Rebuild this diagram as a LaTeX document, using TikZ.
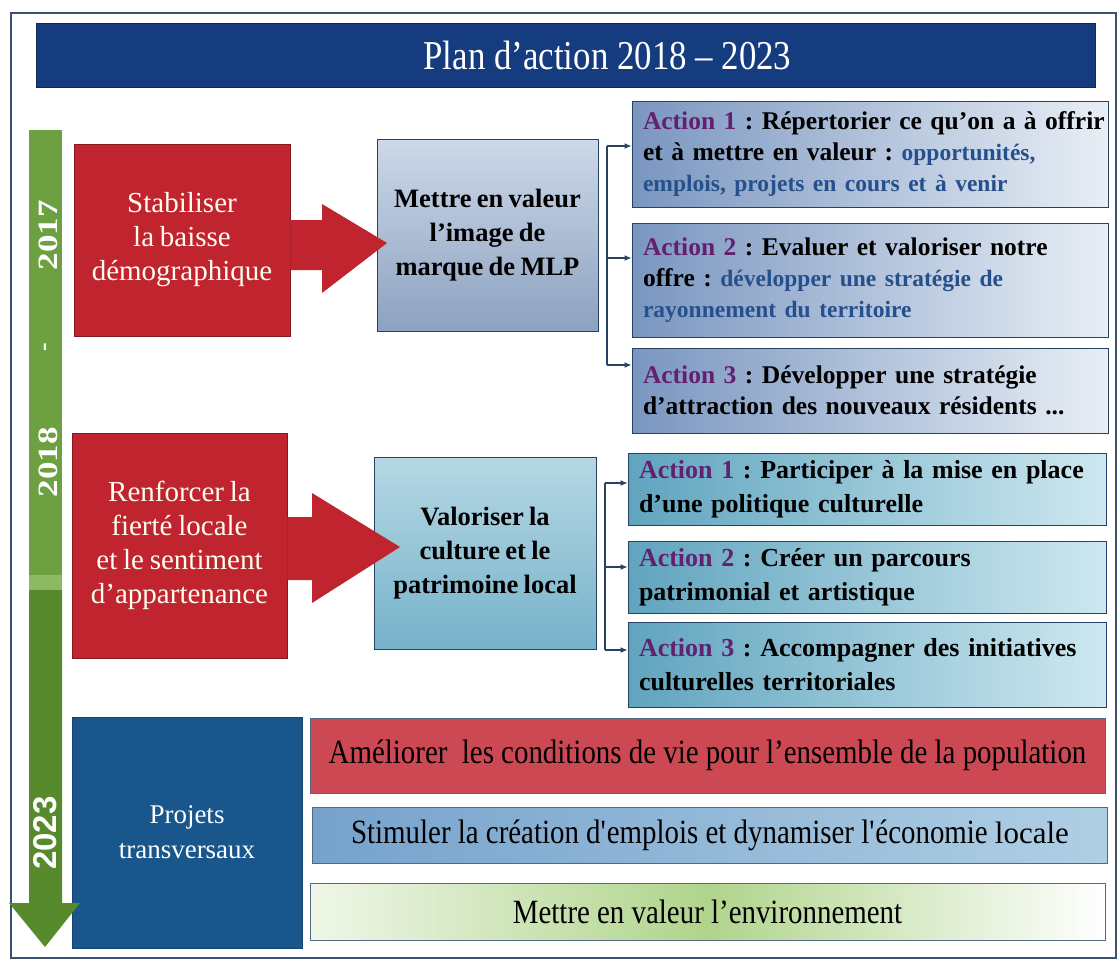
\documentclass[tikz,border=0pt]{standalone}
\usepackage{fontspec}
\setmainfont[WordSpace=0.8]{Liberation Serif}
\setsansfont{Liberation Sans}
\newfontfamily\condfont[FakeStretch=0.85]{Liberation Serif}
\usepackage{graphicx}
\usetikzlibrary{arrows.meta}
\frenchspacing
\newcommand{\setfs}[2]{\fontsize{#1pt}{#2pt}\selectfont}
\newcommand{\act}[1]{\textcolor{actP}{#1}}
\newcommand{\subt}[1]{{\setfs{23.5}{31}\textcolor{subB}{#1}}}
\definecolor{navy}{RGB}{22,60,128}
\definecolor{crim}{RGB}{192,36,46}
\definecolor{frameC}{RGB}{60,82,112}
\definecolor{gMid}{RGB}{108,160,64}
\definecolor{gPale}{RGB}{140,186,100}
\definecolor{gDark}{RGB}{86,138,44}
\definecolor{actP}{RGB}{100,32,112}
\definecolor{subB}{RGB}{38,80,140}
\definecolor{projB}{RGB}{24,86,140}
\definecolor{barR}{RGB}{204,72,82}
\definecolor{barBl}{RGB}{118,162,204}
\definecolor{barBr}{RGB}{175,207,228}
\definecolor{barG}{RGB}{176,212,140}
\definecolor{lineC}{RGB}{40,66,100}
\definecolor{bTa}{RGB}{205,216,232}
\definecolor{bTb}{RGB}{140,162,192}
\definecolor{bSa}{RGB}{182,216,228}
\definecolor{bSb}{RGB}{118,178,202}
\definecolor{aTl}{RGB}{122,150,192}
\definecolor{aTr}{RGB}{232,238,245}
\definecolor{aSl}{RGB}{96,164,190}
\definecolor{aSr}{RGB}{205,232,240}
\tikzset{
  redbox/.style={fill=crim, draw=crim!70!black, line width=0.8pt, text=white!94!yellow,
    font=\setfs{29}{34}, align=center, inner sep=0pt},
  bluebox/.style={draw=lineC, line width=1pt, font=\bfseries\setfs{26.5}{34},
    align=center, inner sep=0pt},
  actbox/.style={draw=lineC, line width=1pt, font=\bfseries\setfs{25.5}{31},
    align=left, inner xsep=11pt, inner ysep=0pt},
  barbox/.style={draw=lineC!80, line width=1pt, minimum width=795pt, inner sep=0pt,
    font=\condfont\setfs{34}{36}},
  conn/.style={draw=lineC, line width=1.1pt},
  arr/.style={conn, -{Latex[length=7pt,width=6pt]}},
  yearlab/.style={rotate=90, text=white, inner sep=0pt}
}
\begin{document}
\begin{tikzpicture}[x=1pt,y=-1pt]
\useasboundingbox (0,0) rectangle (1119,963);
\fill[white] (0,0) rectangle (1119,963);
% frame
\draw[frameC, line width=1.3pt] (11,13) rectangle (1116,958);
% title
\node[fill=navy, draw=navy!70!black, line width=0.8pt, minimum width=1059pt, minimum height=64pt,
  inner sep=0pt, text=white, font=\condfont\setfs{41}{44}] (title) at (565.5,55)
  {\hspace*{84pt}Plan d’action 2018 – 2023};

% first row
\node[redbox, minimum width=216pt, minimum height=192pt] (r1) at (182,240)
  {Stabiliser\\la baisse\\démographique};
\node[bluebox, minimum width=221pt, minimum height=191pt, top color=bTa, bottom color=bTb] (b1) at (487.5,235.5)
  {Mettre en valeur\\l’image de\\marque de MLP};
\fill[crim] (r1.east |- 0,220) -- (322,220) -- (322,204) -- (387,243) -- (322,293) -- (322,270) -- (r1.east |- 0,270) -- cycle;

\node[actbox, text width=454pt, minimum height=105pt, left color=aTl, right color=aTr] (a11) at (870,154.5)
  {\mbox{\act{Action 1} : Répertorier ce qu’on a à offrir}\\ \mbox{et à mettre en valeur : \subt{opportunités,}}\\ \mbox{\subt{emplois, projets en cours et à venir}}};
\node[actbox, text width=454pt, minimum height=114pt, left color=aTl, right color=aTr] (a12) at (870,280)
  {\mbox{\act{Action 2} : Evaluer et valoriser notre}\\ \mbox{offre : \subt{développer une stratégie de}}\\ \mbox{\subt{rayonnement du territoire}}};
\node[actbox, text width=454pt, minimum height=85pt, left color=aTl, right color=aTr] (a13) at (870,390.5)
  {\mbox{\act{Action 3} : Développer une stratégie}\\ \mbox{d’attraction des nouveaux résidents ...}};

\coordinate (j1a) at (607,146);
\coordinate (j1b) at (607,258);
\coordinate (j1c) at (607,365);
\draw[conn] (j1a) -- (j1c);
\draw[arr] (j1a) -- (j1a -| a11.west);
\draw[arr] (j1b) -- (j1b -| a12.west);
\draw[arr] (j1c) -- (j1c -| a13.west);

% second row
\node[redbox, minimum width=215pt, minimum height=225pt] (r2) at (179.5,545.5)
  {Renforcer la\\fierté locale\\et le sentiment\\d’appartenance};
\node[bluebox, minimum width=222pt, minimum height=192pt, top color=bSa, bottom color=bSb] (b2) at (485,553)
  {Valoriser la\\culture et le\\patrimoine local};
\fill[crim] (r2.east |- 0,517) -- (312,517) -- (312,493) -- (400,547) -- (312,603) -- (312,580) -- (r2.east |- 0,580) -- cycle;

\node[actbox, text width=456pt, minimum height=72pt, left color=aSl, right color=aSr, font=\bfseries\setfs{26}{34}] (a21) at (867,489)
  {\mbox{\act{Action 1} : Participer à la mise en place}\\ \mbox{d’une politique culturelle}};
\node[actbox, text width=456pt, minimum height=72pt, left color=aSl, right color=aSr, font=\bfseries\setfs{26}{34}] (a22) at (867,577)
  {\mbox{\act{Action 2} : Créer un parcours}\\ \mbox{patrimonial et artistique}};
\node[actbox, text width=456pt, minimum height=85pt, left color=aSl, right color=aSr, font=\bfseries\setfs{26}{34}] (a23) at (867,664.5)
  {\mbox{\act{Action 3} : Accompagner des initiatives}\\ \mbox{culturelles territoriales}};

\coordinate (j2a) at (605,483);
\coordinate (j2b) at (605,567);
\coordinate (j2c) at (605,650);
\draw[conn] (j2a) -- (j2c);
\draw[arr] (j2a) -- (j2a -| a21.west);
\draw[arr] (j2b) -- (j2b -| a22.west);
\draw[arr] (j2c) -- (j2c -| a23.west);

% transversal projects
\node[fill=projB, draw=projB!80!black, line width=0.8pt, minimum width=230pt, minimum height=231pt,
  text=white, font=\setfs{27}{35}, align=center, inner sep=0pt] (proj) at (187,832.5)
  {Projets\\transversaux};
\node[barbox, minimum height=75pt, fill=barR] (p1) at (707.5,755.5)
  {Améliorer\ \ les conditions de vie pour l’ensemble de la population};
\node[barbox, minimum height=56pt, left color=barBl, right color=barBr] (p2) at (710,835)
  {Stimuler la création d\textquotesingle emplois et dynamiser l\textquotesingle économie {\normalfont\setfs{31}{34}locale}};
\node[barbox, minimum height=57pt, left color=white!80!barG, right color=white, middle color=barG] (p3) at (707.5,911.5)
  {Mettre en valeur l’environnement};

% timeline arrow
\fill[gMid] (29,130) rectangle (62,575);
\fill[gPale] (29,575) rectangle (62,590);
\fill[gDark] (29,590) -- (62,590) -- (62,903) -- (80,903) -- (45,947) -- (9,903) -- (29,903) -- cycle;
\node[yearlab, font=\bfseries\setfs{28}{28}] (y17) at (48,235) {\scalebox{1.25}[1]{2017}};
\node[yearlab, font=\bfseries\setfs{26}{26}] (ydash) at (48,347) {-};
\node[yearlab, font=\bfseries\setfs{28}{28}] (y18) at (48,462) {\scalebox{1.25}[1]{2018}};
\node[yearlab, font=\sffamily\bfseries\setfs{33}{33}] (y23) at (45,833) {2023};
\end{tikzpicture}
\end{document}
